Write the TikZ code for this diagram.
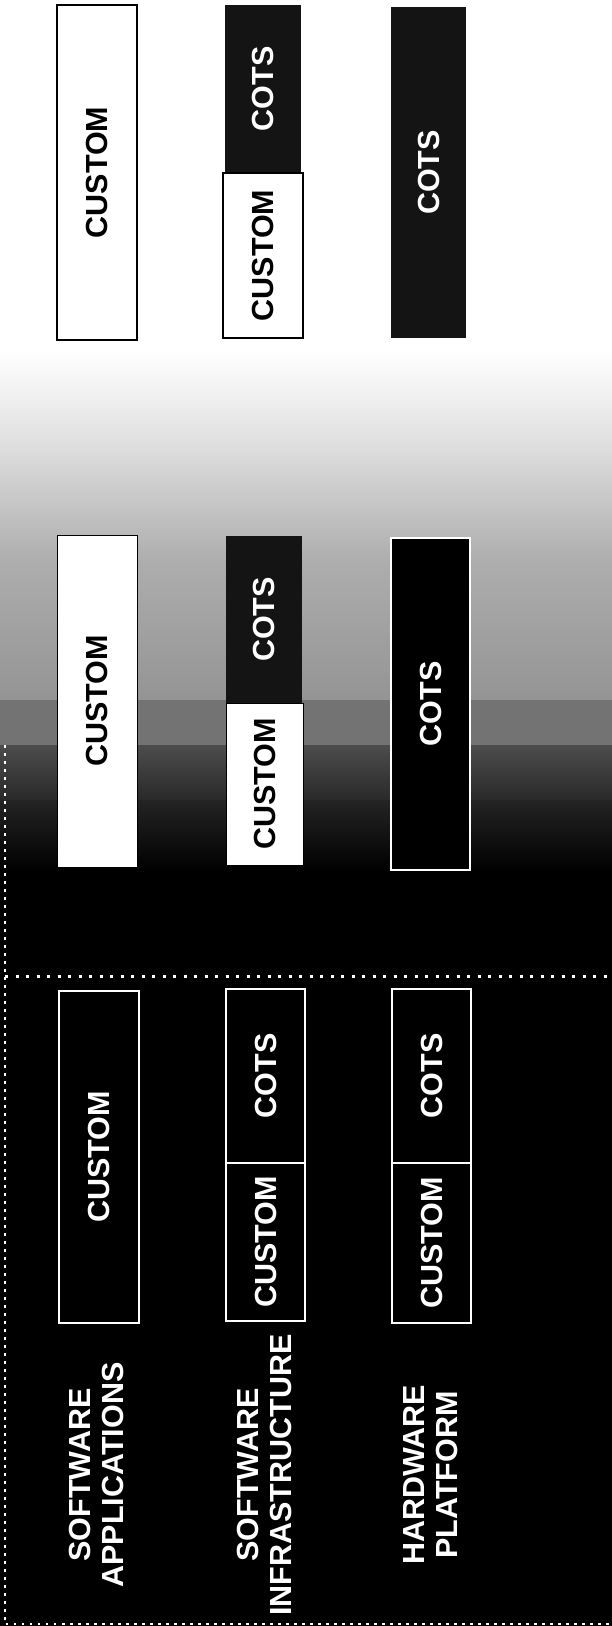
\documentclass[tikz,border=0pt]{standalone}
\usepackage{fontspec}
\newfontfamily\arialfont{Liberation Sans}
\usetikzlibrary{positioning}
\newcommand{\cellfont}{\arialfont\bfseries\fontsize{30.5}{33}\selectfont}

\begin{document}
\begin{tikzpicture}[
  x=1pt, y=-1pt,
  cell/.style={rotate=90, inner sep=0pt, font=\cellfont},
  whitecell/.style={cell, fill=white, draw=black, line width=1.5pt, text=black},
  blackcell/.style={cell, fill=black!92, text=white},
  darkcell/.style={cell, fill=black, draw=white, line width=1.2pt, text=white},
  layer/.style={cell, text=white, align=center},
  border/.style={white, line width=2.5pt, dash pattern=on 2.5pt off 5.5pt},
  divider/.style={white, line width=3pt, dash pattern=on 3pt off 7.5pt}
]
\useasboundingbox (0,0) rectangle (612,1626);
\fill[white] (0,0) rectangle (612,351);
\shade[top color=white, bottom color=black!12] (0,350) rectangle (612,441);
\shade[top color=black!12, bottom color=black!32] (0,440) rectangle (612,561);
\shade[top color=black!32, bottom color=black!42] (0,560) rectangle (612,701);
\fill[black!55] (0,700) rectangle (612,746);
\shade[top color=black!70, bottom color=black!84] (0,745) rectangle (612,801);
\shade[top color=black!86, bottom color=black] (0,800) rectangle (612,871);
\fill[black] (0,870) rectangle (612,1626);

\node[whitecell, minimum width=335pt, minimum height=80pt] (topApp) at (97,172.5) {CUSTOM};
\node[blackcell, minimum width=168pt, minimum height=76pt] (topInfraCots) at (263,89) {COTS};
\node[whitecell, minimum width=165pt, minimum height=80pt] (topInfraCustom) at (263,255.5) {CUSTOM};
\node[blackcell, minimum width=331pt, minimum height=75pt] (topHwCots) at (428.5,172.5) {COTS};

\node[whitecell, line width=1pt, minimum width=332pt, minimum height=80pt] (midApp) at (97,701) {CUSTOM};
\node[blackcell, minimum width=167pt, minimum height=76pt] (midInfraCots) at (264,619.5) {COTS};
\node[whitecell, line width=1pt, minimum width=162pt, minimum height=77pt] (midInfraCustom) at (264.5,784) {CUSTOM};
\node[darkcell, minimum width=332pt, minimum height=79pt] (midHwCots) at (430.5,704) {COTS};

\coordinate (edgeTop) at (5,745);
\coordinate (edgeCorner) at (5,1624);
\coordinate (edgeEnd) at (612,1624);
\coordinate (splitStart) at (5,976);
\coordinate (splitEnd) at (612,976);
\draw[border] (edgeTop) -- (edgeCorner) -- (edgeEnd);
\draw[divider] (splitStart) -- (splitEnd);

\node[darkcell, minimum width=332pt, minimum height=80pt] (lowApp) at (99,1157) {CUSTOM};
\node[darkcell, minimum width=174pt, minimum height=79pt] (lowInfraCots) at (265.5,1076) {COTS};
\node[darkcell, minimum width=158pt, minimum height=79pt] (lowInfraCustom) at (265.5,1242) {CUSTOM};
\node[darkcell, minimum width=174pt, minimum height=79pt] (lowHwCots) at (431.5,1076) {COTS};
\node[darkcell, minimum width=160pt, minimum height=79pt] (lowHwCustom) at (431.5,1243) {CUSTOM};

\node[layer] (appLabel) at (96.5,1475) {SOFTWARE\\APPLICATIONS};
\node[layer] (infraLabel) at (264,1475) {SOFTWARE\\INFRASTRUCTURE};
\node[layer] (hwLabel) at (431,1475) {HARDWARE\\PLATFORM};
\end{tikzpicture}
\end{document}
